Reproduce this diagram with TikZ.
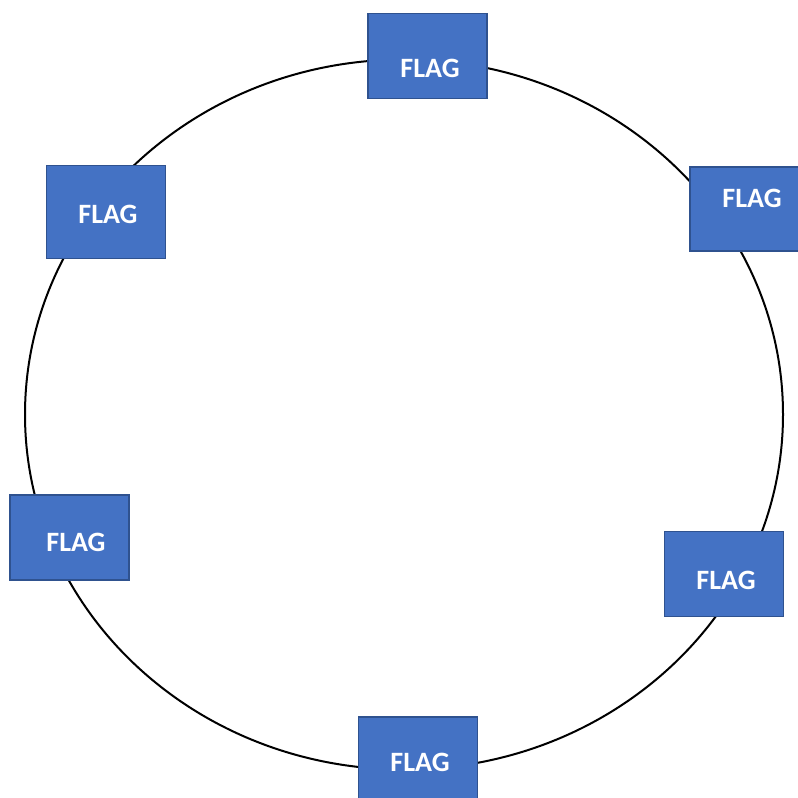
\documentclass[tikz,border=0pt]{standalone}
\usepackage{fontspec}
\setmainfont{Carlito}
\definecolor{flagfill}{HTML}{4472C4}
\definecolor{flagedge}{HTML}{2F528F}
\begin{document}
\begin{tikzpicture}[x=1pt,y=-1pt,
  flagbox/.style={draw=flagedge, line width=1.5pt, fill=flagfill, rectangle, inner sep=0pt},
  flagtext/.style={text=white, font=\bfseries\fontsize{28}{30}\selectfont, inner sep=0pt}]
\useasboundingbox (0,0) rectangle (798,798);
\clip (0,0) rectangle (798,798);
\draw[line width=2pt] (404,414.5) ellipse [x radius=379, y radius=355];
% boxes
\node[flagbox, minimum width=119pt, minimum height=85pt] (b1) at (427.5,56) {};
\node[flagtext] (t1) at (430,68) {FLAG};
\node[flagbox, minimum width=119pt, minimum height=84pt] (b2) at (749.5,209) {};
\node[flagtext] (t2) at (752,198) {FLAG};
\node[flagbox, minimum width=119pt, minimum height=93pt] (b3) at (106,212) {};
\node[flagtext] (t3) at (108,214) {FLAG};
\node[flagbox, minimum width=119pt, minimum height=85pt] (b4) at (69.5,537.5) {};
\node[flagtext] (t4) at (76,542) {FLAG};
\node[flagbox, minimum width=119pt, minimum height=85pt] (b5) at (724,574) {};
\node[flagtext] (t5) at (726,580) {FLAG};
\node[flagbox, minimum width=119pt, minimum height=85pt] (b6) at (418,759.5) {};
\node[flagtext] (t6) at (420,762) {FLAG};
\end{tikzpicture}
\end{document}
